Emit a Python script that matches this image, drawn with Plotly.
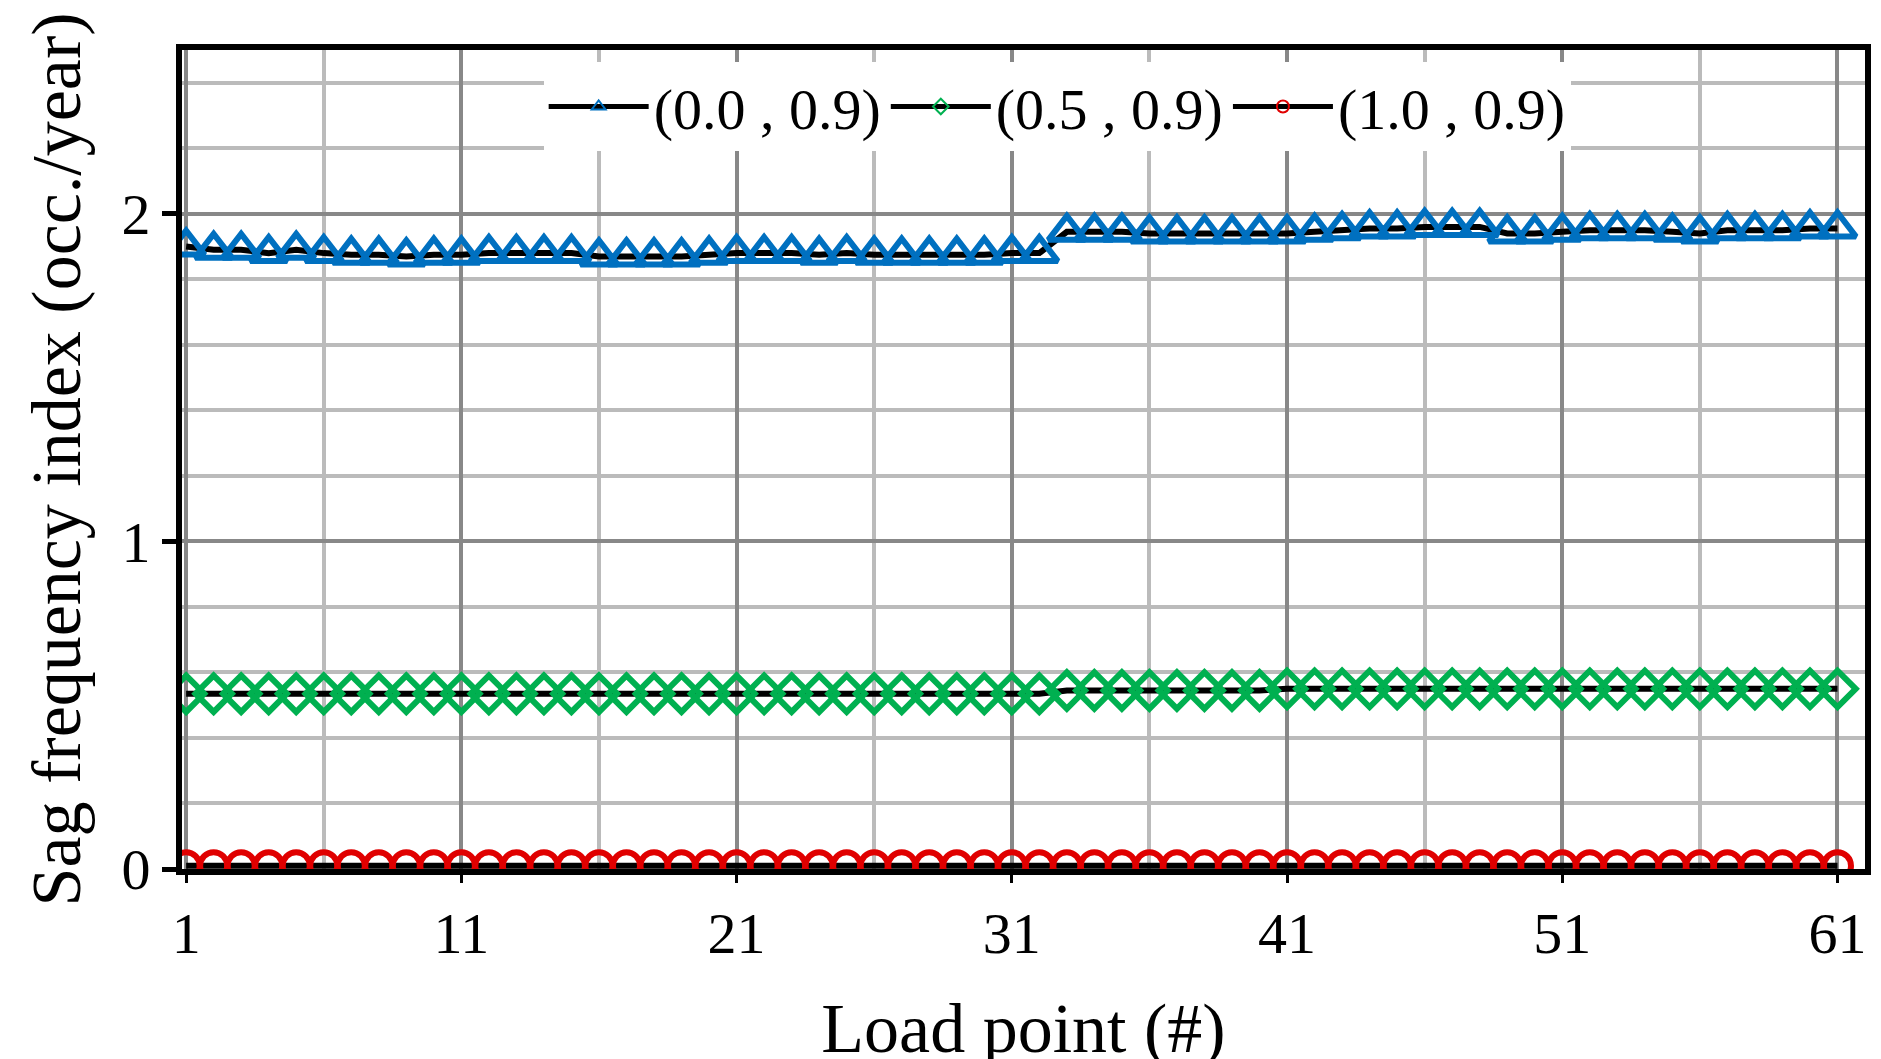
import plotly.graph_objects as go

# load point index
load_points = list(range(1, 62))

# sag frequency index (occ./year)
sfi_00 = [1.90, 1.89, 1.89, 1.88, 1.89, 1.88, 1.875, 1.875, 1.87, 1.875,
          1.875, 1.88, 1.88, 1.88, 1.88, 1.87, 1.87, 1.87, 1.87, 1.875,
          1.88, 1.88, 1.88, 1.875, 1.88, 1.875, 1.875, 1.875, 1.875, 1.875,
          1.88, 1.88, 1.945, 1.945, 1.945, 1.94, 1.94, 1.94, 1.94, 1.94,
          1.94, 1.945, 1.95, 1.955, 1.955, 1.96, 1.96, 1.96, 1.94, 1.94,
          1.945, 1.95, 1.95, 1.95, 1.945, 1.94, 1.95, 1.95, 1.95, 1.955, 1.955]
sfi_05 = [0.535] * 32 + [0.545] * 8 + [0.55] * 21
sfi_10 = [0.01] * 61

series = [
    ("(0.0 , 0.9)", sfi_00, "#0070C0", "triangle-up-open", 32),
    ("(0.5 , 0.9)", sfi_05, "#00B050", "diamond-open", 28),
    ("(1.0 , 0.9)", sfi_10, "#E00000", "circle-open", 27),
]

fig = go.Figure()
for name, vals, col, sym, sz in series:
    fig.add_trace(go.Scatter(
        x=load_points, y=vals, name=name, mode="lines+markers",
        line=dict(color="black", width=6),
        marker=dict(symbol=sym, size=sz, color=col, line=dict(color=col, width=6)),
    ))

font = dict(family="Liberation Serif", size=58, color="black")
fig.update_layout(
    width=1881, height=1059,
    margin=dict(l=174, r=24, t=42, b=194),
    plot_bgcolor="white", paper_bgcolor="white",
    font=font,
    showlegend=True,
    legend=dict(orientation="h", x=0.52, y=0.985, xanchor="center", yanchor="top",
                bgcolor="white", font=dict(family="Liberation Serif", size=58),
                itemwidth=100, itemsizing="constant"),
)
fig.update_xaxes(
    range=[0.85, 62], tickmode="array", tickvals=list(range(1, 62, 10)),
    title=dict(text="Load point (#)", standoff=40),
    showgrid=True, gridcolor="#888888", gridwidth=4,
    minor=dict(tickvals=list(range(6, 62, 10)), showgrid=True, gridcolor="#bbbbbb", gridwidth=4),
    showline=True, linecolor="black", linewidth=6, mirror=True,
    ticks="outside", ticklen=8, tickwidth=3, tickcolor="black", zeroline=False,
)
fig.update_yaxes(
    range=[0, 2.5], tickvals=[0, 1, 2],
    title=dict(text="Sag frequency index (occ./year)", standoff=20),
    showgrid=True, gridcolor="#888888", gridwidth=4,
    minor=dict(dtick=0.2, showgrid=True, gridcolor="#bbbbbb", gridwidth=4),
    showline=True, linecolor="black", linewidth=6, mirror=True,
    ticks="outside", ticklen=14, tickwidth=5, tickcolor="black", zeroline=False,
)

fig.write_html("out.html")
